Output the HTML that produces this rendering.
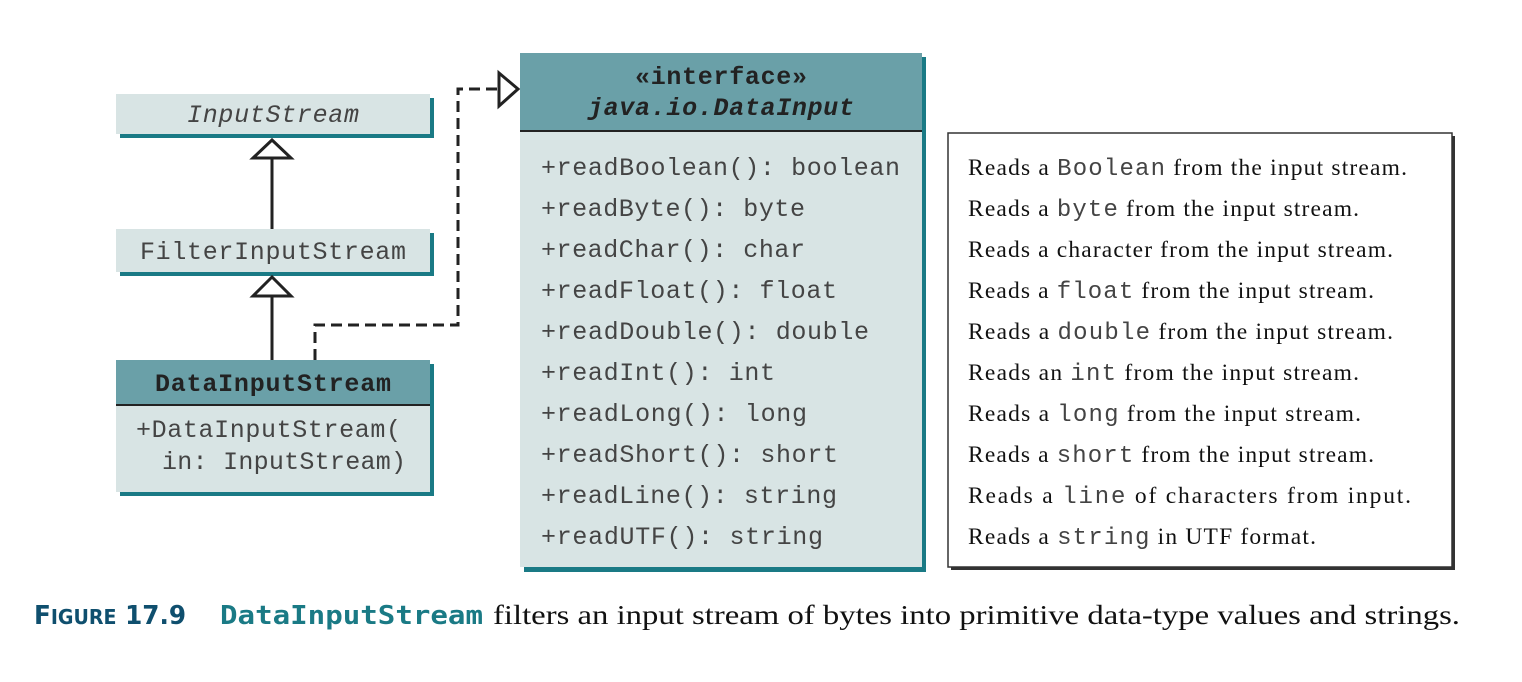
<!DOCTYPE html>
<html><head><meta charset="utf-8"><style>body{margin:0;background:#fff}svg{display:block}</style></head>
<body>
<svg width="1522" height="682" viewBox="0 0 1522 682" xmlns="http://www.w3.org/2000/svg">
<defs><style>
.m{font-family:"Liberation Mono",monospace;font-size:25px;fill:#444}
.s{font-family:"Liberation Serif",serif;font-size:23.5px;fill:#111}
.sm{font-family:"Liberation Mono",monospace;font-size:24px;fill:#444}
</style></defs>
<rect x="120" y="98" width="314" height="40" fill="#1a7a85"/>
<rect x="116" y="94" width="314" height="40" fill="#d8e4e4"/>
<text class="m" x="273" y="122" text-anchor="middle" font-style="italic" textLength="172" lengthAdjust="spacing">InputStream</text>
<rect x="120" y="233" width="314" height="43" fill="#1a7a85"/>
<rect x="116" y="229" width="314" height="43" fill="#d8e4e4"/>
<text class="m" x="273" y="259" text-anchor="middle" textLength="266" lengthAdjust="spacing">FilterInputStream</text>
<rect x="120" y="364" width="314" height="132" fill="#1a7a85"/>
<rect x="116" y="360" width="314" height="45" fill="#6aa0a8"/>
<rect x="116" y="405" width="314" height="87" fill="#d8e4e4"/>
<line x1="116" y1="405" x2="430" y2="405" stroke="#222" stroke-width="2"/>
<text class="m" x="273" y="391" text-anchor="middle" font-weight="bold" textLength="236" lengthAdjust="spacing" style="fill:#222">DataInputStream</text>
<text class="m" x="136" y="437" textLength="265" lengthAdjust="spacing">+DataInputStream(</text>
<text class="m" x="162" y="469" textLength="244" lengthAdjust="spacing">in: InputStream)</text>
<g stroke="#222" stroke-width="3" fill="#fff">
<line x1="272" y1="158" x2="272" y2="229"/>
<polygon points="272,140 253,158 291,158"/>
<line x1="272" y1="296" x2="272" y2="360"/>
<polygon points="272,277 253,296 291,296"/>
</g>
<polyline points="315,360 315,325 458,325 458,89 498,89" fill="none" stroke="#222" stroke-width="3" stroke-dasharray="11,6"/>
<polygon points="499,73 518,89 499,106" fill="#fff" stroke="#222" stroke-width="3"/>
<rect x="524" y="57" width="402" height="515" fill="#1a7a85"/>
<rect x="520" y="53" width="402" height="78" fill="#6aa0a8"/>
<rect x="520" y="131" width="402" height="436" fill="#d8e4e4"/>
<line x1="520" y1="131" x2="922" y2="131" stroke="#222" stroke-width="2"/>
<text class="m" x="721" y="84" text-anchor="middle" font-weight="bold" style="fill:#222" textLength="172" lengthAdjust="spacing">«interface»</text>
<text class="m" x="721" y="115" text-anchor="middle" font-weight="bold" font-style="italic" style="fill:#222" textLength="266" lengthAdjust="spacing">java.io.DataInput</text>
<text class="m" x="541" y="175" textLength="359" lengthAdjust="spacing">+readBoolean(): boolean</text>
<text class="m" x="541" y="216" textLength="264" lengthAdjust="spacing">+readByte(): byte</text>
<text class="m" x="541" y="257" textLength="264" lengthAdjust="spacing">+readChar(): char</text>
<text class="m" x="541" y="298" textLength="296" lengthAdjust="spacing">+readFloat(): float</text>
<text class="m" x="541" y="339" textLength="328" lengthAdjust="spacing">+readDouble(): double</text>
<text class="m" x="541" y="380" textLength="234" lengthAdjust="spacing">+readInt(): int</text>
<text class="m" x="541" y="421" textLength="266" lengthAdjust="spacing">+readLong(): long</text>
<text class="m" x="541" y="462" textLength="297" lengthAdjust="spacing">+readShort(): short</text>
<text class="m" x="541" y="503" textLength="296" lengthAdjust="spacing">+readLine(): string</text>
<text class="m" x="541" y="544" textLength="282" lengthAdjust="spacing">+readUTF(): string</text>
<rect x="951" y="136" width="504" height="434" fill="#333"/>
<rect x="948" y="133" width="504" height="434" fill="#fff" stroke="#333" stroke-width="1.5"/>
<text class="s" x="968" y="175" textLength="439" lengthAdjust="spacing">Reads a <tspan class="sm">Boolean</tspan> from the input stream.</text>
<text class="s" x="968" y="216" textLength="391" lengthAdjust="spacing">Reads a <tspan class="sm">byte</tspan> from the input stream.</text>
<text class="s" x="968" y="257" textLength="425" lengthAdjust="spacing">Reads a character from the input stream.</text>
<text class="s" x="968" y="298" textLength="406" lengthAdjust="spacing">Reads a <tspan class="sm">float</tspan> from the input stream.</text>
<text class="s" x="968" y="339" textLength="425" lengthAdjust="spacing">Reads a <tspan class="sm">double</tspan> from the input stream.</text>
<text class="s" x="968" y="380" textLength="391" lengthAdjust="spacing">Reads an <tspan class="sm">int</tspan> from the input stream.</text>
<text class="s" x="968" y="421" textLength="393" lengthAdjust="spacing">Reads a <tspan class="sm">long</tspan> from the input stream.</text>
<text class="s" x="968" y="462" textLength="406" lengthAdjust="spacing">Reads a <tspan class="sm">short</tspan> from the input stream.</text>
<text class="s" x="968" y="503" textLength="443" lengthAdjust="spacing">Reads a <tspan class="sm">line</tspan> of characters from input.</text>
<text class="s" x="968" y="544" textLength="348" lengthAdjust="spacing">Reads a <tspan class="sm">string</tspan> in UTF format.</text>
<text x="34" y="624" font-family="'DejaVu Sans','Liberation Sans',sans-serif" font-weight="bold" font-size="26" fill="#0f4f6e" textLength="152" lengthAdjust="spacingAndGlyphs">F<tspan font-size="20">IGURE</tspan> 17.9</text>
<text x="220" y="624" font-family="'DejaVu Sans Mono','Liberation Mono',monospace" font-weight="bold" font-size="26" fill="#1a7a85" textLength="263" lengthAdjust="spacingAndGlyphs">DataInputStream</text>
<text x="493" y="624" font-family="'Liberation Serif',serif" font-size="27" fill="#111" textLength="967" lengthAdjust="spacingAndGlyphs">filters an input stream of bytes into primitive data-type values and strings.</text>
</svg>
</body></html>
